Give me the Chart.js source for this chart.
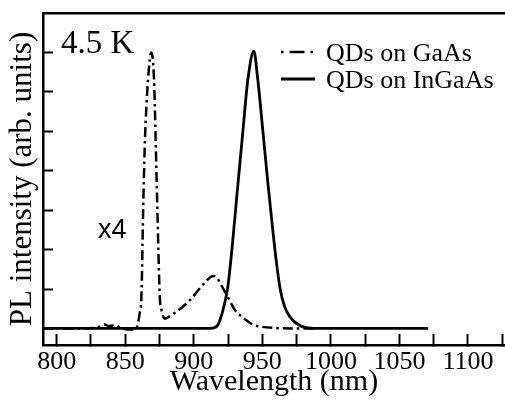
<!DOCTYPE html>
<html>
<head>
<meta charset="utf-8">
<script src="https://cdn.jsdelivr.net/npm/chart.js@4.4.0/dist/chart.umd.min.js"></script>
<style>
html,body{margin:0;padding:0;background:#fff;}
#wrap{width:505px;height:404px;position:relative;}
</style>
</head>
<body>
<div id="wrap"><canvas id="c" width="505" height="404"></canvas></div>
<script>
// ---- data ----
const gaasWavelength = [790, 800, 810, 820, 830, 835, 838, 842, 848, 855, 858, 860.6, 861.8, 863, 864.2, 866.6, 869, 871, 872.3, 873.5, 875.2, 876.4, 879, 882, 887, 892, 898, 904, 909.5, 914, 917, 920, 924, 930, 936, 943, 950, 960, 975, 990];
const gaasIntensity  = [0, 0, 0, 0, 0.03, 0.1, 0.06, 0.08, 0.0, -0.03, 0.0, 0.4, 0.8, 2.9, 4.6, 6.3, 7.0, 6.3, 4.6, 2.9, 0.8, 0.47, 0.25, 0.3, 0.42, 0.55, 0.75, 1.0, 1.22, 1.33, 1.28, 1.1, 0.85, 0.47, 0.27, 0.1, 0.04, 0.01, 0, 0];

const ingaasWavelength = [790, 820, 850, 880, 912, 917, 919, 922.6, 924.8, 928, 931.5, 935.8, 939.4, 943.8, 946.7, 950.4, 954, 957, 960, 963, 966, 970, 976, 982, 990, 1020, 1050, 1071];
const ingaasIntensity  = [0, 0, 0, 0, 0, 0.06, 0.2, 0.65, 1.05, 2.07, 3.4, 5.0, 6.3, 7.03, 6.3, 5.0, 3.7, 2.7, 1.75, 1.0, 0.58, 0.3, 0.1, 0.02, 0, 0, 0, 0];

const seriesNames = ['QDs on GaAs', 'QDs on InGaAs'];
const xTickLabels = [800, 850, 900, 950, 1000, 1050, 1100];
const yTickValues = [1, 2, 3, 4, 5, 6, 7];
const tempLabel = '4.5 K';
const scaleLabel = 'x4';

const toPoints = (xs, ys) => xs.map((x, i) => ({x: x, y: ys[i]}));

const SERIF = '"Liberation Serif", "Times New Roman", serif';
const dashDot = [10, 4, 2.5, 4];

const overlay = {
  id: 'overlay',
  afterDraw(chart) {
    const ctx = chart.ctx;
    ctx.save();
    ctx.fillStyle = '#000';
    ctx.textBaseline = 'alphabetic';
    ctx.textAlign = 'left';
    ctx.font = '33px ' + SERIF;
    ctx.fillText(tempLabel, 61, 53);
    ctx.font = '27px "Liberation Sans", Arial, sans-serif';
    ctx.fillText(scaleLabel, 98, 238);
    // legend
    const ds = chart.data.datasets;
    const rows = [52, 79];
    ds.forEach((d, i) => {
      ctx.strokeStyle = '#000';
      ctx.lineWidth = d.borderWidth;
      ctx.setLineDash(i === 0 ? [2.5, 6, 15, 6] : []);
      ctx.beginPath();
      ctx.moveTo(281, rows[i]);
      ctx.lineTo(i === 0 ? 313 : 315, rows[i]);
      ctx.stroke();
      ctx.setLineDash([]);
      ctx.font = '26px ' + SERIF;
      ctx.fillText(d.label, 326, rows[i] + 9);
    });
    ctx.restore();
  }
};

const noSidePad = s => { s.paddingLeft = 0; s.paddingRight = 0; };

new Chart(document.getElementById('c'), {
  type: 'line',
  data: {
    datasets: [
      {label: seriesNames[0], data: toPoints(gaasWavelength, gaasIntensity), borderColor: '#000', borderWidth: 2.5, borderDash: dashDot, pointRadius: 0, cubicInterpolationMode: 'monotone', fill: false},
      {label: seriesNames[1], data: toPoints(ingaasWavelength, ingaasIntensity), borderColor: '#000', borderWidth: 2.8, pointRadius: 0, cubicInterpolationMode: 'monotone', fill: false}
    ]
  },
  options: {
    responsive: false,
    animation: false,
    devicePixelRatio: 1,
    layout: {padding: 0},
    plugins: {legend: {display: false}, tooltip: {enabled: false}},
    scales: {
      x: {
        type: 'linear', position: 'bottom', min: 790, max: 1127,
        ticks: {
          stepSize: 25, includeBounds: false, autoSkip: false, maxRotation: 0, padding: 13,
          color: '#000', font: {family: SERIF, size: 26},
          callback: v => xTickLabels.includes(v) ? String(v) : ''
        },
        grid: {drawOnChartArea: false, drawTicks: true, tickLength: -11, tickWidth: 2, tickColor: '#000', color: '#000'},
        border: {display: true, color: '#000', width: 2.5},
        title: {display: true, text: 'Wavelength (nm)', color: '#000', font: {family: SERIF, size: 30}, padding: {top: 0, bottom: 4}},
        afterFit: s => { s.height = 59; noSidePad(s); }
      },
      xTop: {
        type: 'linear', position: 'top', min: 790, max: 1127,
        ticks: {display: false},
        grid: {display: true, drawOnChartArea: false, drawTicks: false},
        border: {display: true, color: '#000', width: 2.5},
        afterFit: s => { s.height = 13; noSidePad(s); }
      },
      y: {
        type: 'linear', position: 'left', min: -0.42, max: 8,
        ticks: {display: false, stepSize: 1},
        afterBuildTicks: s => { s.ticks = yTickValues.map(v => ({value: v})); },
        grid: {drawOnChartArea: false, drawTicks: true, tickLength: -10, tickWidth: 2, tickColor: '#000', color: '#000'},
        border: {display: true, color: '#000', width: 2.5},
        title: {display: true, text: 'PL intensity (arb. units)', color: '#000', font: {family: SERIF, size: 31}, padding: {top: 4, bottom: 0}},
        afterFit: s => { s.width = 43; s.paddingTop = 0; s.paddingBottom = 0; }
      }
    }
  },
  plugins: [overlay]
});
</script>
</body>
</html>
